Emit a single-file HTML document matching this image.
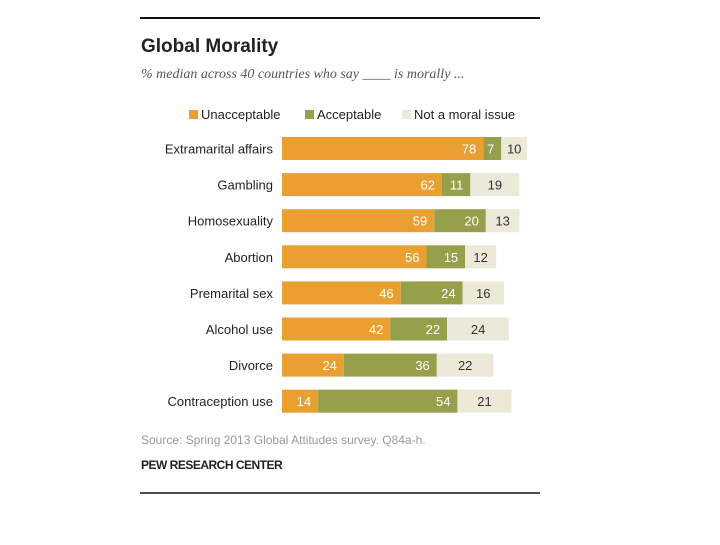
<!DOCTYPE html>
<html><head><meta charset="utf-8"><style>
body{margin:0;background:#fff;width:720px;height:540px;overflow:hidden;font-family:"Liberation Sans",sans-serif}
svg text{font-family:"Liberation Sans",sans-serif}
</style></head><body>
<svg width="720" height="540">
<line x1="140" y1="18" x2="540" y2="18" stroke="#111" stroke-width="2"/>
<text x="141" y="52" font-size="19" font-weight="bold" fill="#222">Global Morality</text>
<text x="141" y="78" font-size="14" font-style="italic" fill="#555" font-family="Liberation Serif" style="font-family:'Liberation Serif',serif">% median across 40 countries who say ____ is morally ...</text>
<g id="legend"></g>
<g id="bars"></g>
<text x="141" y="444" font-size="12" fill="#999">Source: Spring 2013 Global Attitudes survey. Q84a-h.</text>
<text x="141" y="469" font-size="12" font-weight="bold" fill="#222" letter-spacing="-0.5">PEW RESEARCH CENTER</text>
<line x1="140" y1="493" x2="540" y2="493" stroke="#111" stroke-width="1.5"/>
</svg>
<script>
const categories=["Extramarital affairs","Gambling","Homosexuality","Abortion","Premarital sex","Alcohol use","Divorce","Contraception use"];
const unacceptable=[78,62,59,56,46,42,24,14];
const acceptable=[7,11,20,15,24,22,36,54];
const notMoral=[10,19,13,12,16,24,22,21];
const seriesNames=["Unacceptable","Acceptable","Not a moral issue"];
const colors=["#E9A030","#96A04A","#EAEAD9"];
const textColors=["#fff","#fff","#333"];
const NS="http://www.w3.org/2000/svg";
const x0=282, pxPer=2.58, y0=137, pitch=36.1, bh=23;
const xs=v=>v*pxPer;
const yRow=i=>y0+i*pitch;
const bars=document.getElementById('bars');
function mk(tag,attrs,parent){const e=document.createElementNS(NS,tag);for(const k in attrs)e.setAttribute(k,attrs[k]);parent.appendChild(e);return e;}
const series=[unacceptable,acceptable,notMoral];
categories.forEach((c,i)=>{
  const y=yRow(i);
  const lab=mk('text',{x:273,y:y+bh/2+5,'font-size':13,fill:'#222','text-anchor':'end'},bars);
  lab.textContent=c;
  
  
  let acc=0;
  series.forEach((s,k)=>{
    const v=s[i];
    const r=mk('rect',{x:x0+xs(acc),y:y,width:xs(v),height:bh,fill:colors[k]},bars);
    
    
    const tx=k<2?x0+xs(acc+v)-7:x0+xs(acc+v/2);
    const t=mk('text',{x:tx,y:y+bh/2+5,'font-size':13,fill:textColors[k],'text-anchor':k<2?'end':'middle'},bars);
    t.textContent=v;
    
    
    acc+=v;
  });
});
const lg=document.getElementById('legend');
const lx=[189,305,402];
seriesNames.forEach((n,k)=>{
  const r=mk('rect',{x:lx[k],y:110,width:9,height:9,fill:colors[k]},lg);
  
  
  const t=mk('text',{x:lx[k]+12,y:119,'font-size':13,fill:'#222'},lg);
  t.textContent=n;
  
  
});
</script>
</body></html>
